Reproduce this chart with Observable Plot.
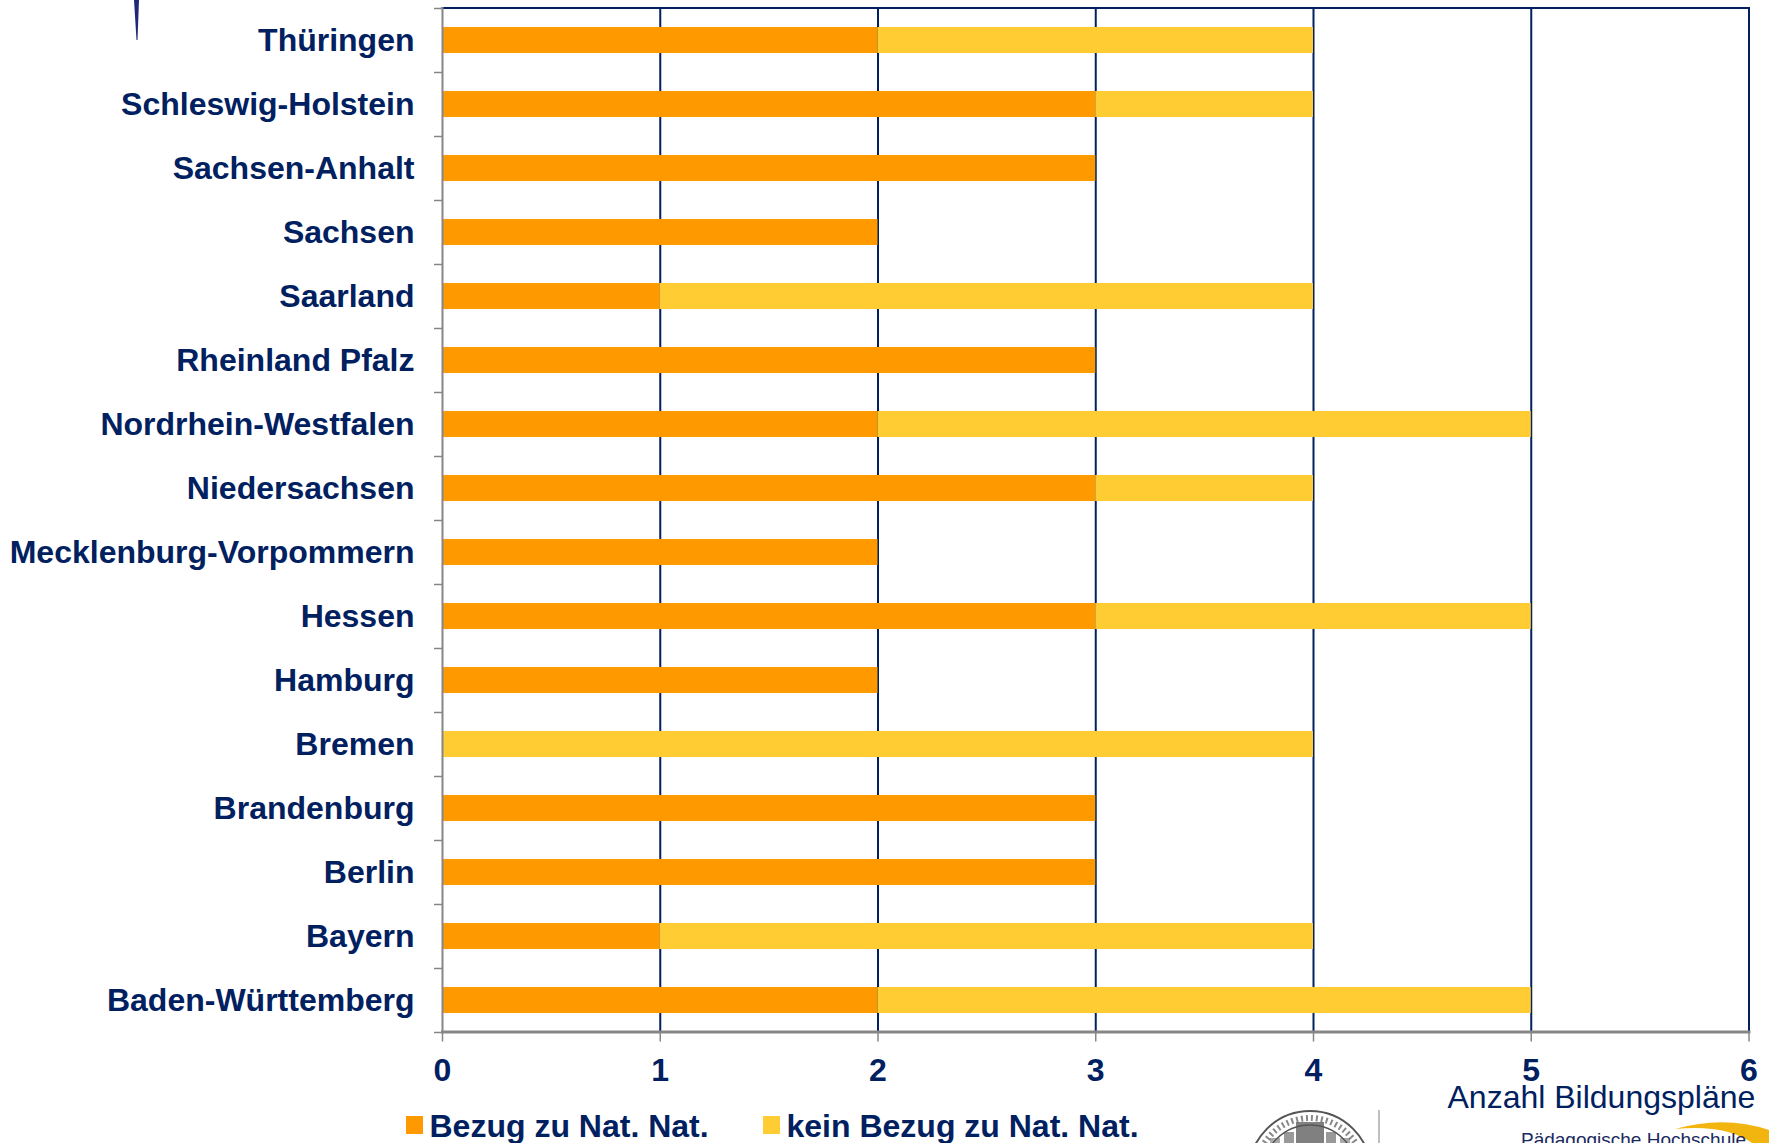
<!DOCTYPE html>
<html><head><meta charset="utf-8">
<script src="https://cdn.jsdelivr.net/npm/d3@7"></script>
<script src="https://cdn.jsdelivr.net/npm/@observablehq/plot@0.6"></script>
<style>
html,body{margin:0;padding:0;background:#fff;width:1769px;height:1143px;overflow:hidden;font-family:"Liberation Sans",Arial,sans-serif;color:#002060}
#chart{position:absolute;left:0;top:0}
.abs{position:absolute;white-space:nowrap;line-height:1}
.sw{position:absolute;width:17px;height:18px}
#deco{position:absolute;left:0;top:0;pointer-events:none}
</style></head><body>
<div id="chart"></div>
<svg id="deco" width="1769" height="1143" viewBox="0 0 1769 1143">
  <path d="M134 0 L139 0 L137.5 40 L136.5 40 Z" fill="#1e2a78"/>
  <path d="M1675 1129 Q1725 1115 1769 1130 L1769 1143 L1752 1143 Q1725 1124 1675 1129 Z" fill="#F2B40F"/>
  <line x1="1379" y1="1110" x2="1379" y2="1143" stroke="#aaaaaa" stroke-width="1.5"/>
  <g fill="none" stroke="#555555">
    <circle cx="1310" cy="1172" r="61" stroke-width="2"/>
    <circle cx="1310" cy="1172" r="54" stroke-width="6" stroke-dasharray="2 3" stroke-opacity="0.7"/>
    <circle cx="1310" cy="1172" r="47" stroke-width="1.5"/>
  </g>
  <g fill="#555555">
    <rect x="1296" y="1122" width="28" height="21" fill-opacity="0.75"/>
    <rect x="1284" y="1132" width="10" height="11" fill-opacity="0.6"/>
    <rect x="1326" y="1132" width="10" height="11" fill-opacity="0.6"/>
    <rect x="1270" y="1138" width="10" height="5" fill-opacity="0.5"/>
    <rect x="1340" y="1138" width="10" height="5" fill-opacity="0.5"/>
  </g>
</svg>
<div class="sw" style="left:406px;top:1116px;background:#FF9900"></div>
<div class="abs" style="left:429.5px;top:1109.5px;font-size:32px;font-weight:bold">Bezug zu Nat. Nat.</div>
<div class="sw" style="left:763px;top:1116px;background:#FFCC33"></div>
<div class="abs" style="left:786.5px;top:1109.5px;font-size:32px;font-weight:bold">kein Bezug zu Nat. Nat.</div>
<div class="abs" style="left:1447.5px;top:1080.5px;font-size:32px">Anzahl Bildungspläne</div>
<div class="abs" style="left:1521px;top:1130px;font-size:19px;color:#1a2a5e">Pädagogische Hochschule</div>
<script>
const states = ["Thüringen","Schleswig-Holstein","Sachsen-Anhalt","Sachsen","Saarland","Rheinland Pfalz","Nordrhein-Westfalen","Niedersachsen","Mecklenburg-Vorpommern","Hessen","Hamburg","Bremen","Brandenburg","Berlin","Bayern","Baden-Württemberg"];
const bezug = [2,3,3,2,1,3,2,3,2,3,2,0,3,3,1,2];
const keinBezug = [2,1,0,0,3,0,3,1,0,2,0,4,0,0,3,3];
const xTicks = [0,1,2,3,4,5,6];
const seriesNames = ["Bezug zu Nat. Nat.","kein Bezug zu Nat. Nat."];
const seriesColors = ["#FF9900","#FFCC33"];
const rows = states.flatMap((s,i)=>[
  {state:s,series:seriesNames[0],value:bezug[i]},
  {state:s,series:seriesNames[1],value:keinBezug[i]}
]);
const navy="#002060", gray="#868686";
const plot = Plot.plot({
  width:1769,height:1143,
  marginLeft:442,marginRight:20.5,marginTop:7.5,marginBottom:111.5,
  style:{fontFamily:'"Liberation Sans",Arial,sans-serif',background:"transparent",overflow:"visible"},
  x:{domain:[0,6]},
  y:{domain:states,paddingInner:0.6,paddingOuter:0.3},
  color:{domain:seriesNames,range:seriesColors},
  marks:[
    Plot.ruleX(xTicks.slice(1),{stroke:navy,strokeWidth:2}),
    Plot.frame({anchor:"top",stroke:navy,strokeWidth:2}),
    Plot.barX(rows,{x:"value",y:"state",fill:"series",order:seriesNames}),
    Plot.frame({anchor:"left",stroke:gray,strokeWidth:2}),
    Plot.frame({anchor:"bottom",stroke:gray,strokeWidth:3}),
    Plot.axisY({tickSize:8,text:null,dy:32,stroke:gray,strokeWidth:1.5,label:null}),
    Plot.axisY([states[0]],{tickSize:8,text:null,dy:-32,stroke:gray,strokeWidth:1.5,label:null}),
    Plot.axisY({tickSize:0,tickPadding:28,fill:navy,fontSize:32,fontWeight:"bold",label:null}),
    Plot.axisX(xTicks,{tickSize:10,stroke:gray,strokeWidth:1.5,text:null,label:null}),
    Plot.axisX(xTicks,{tickSize:0,tickPadding:26,fill:navy,fontSize:32,fontWeight:"bold",label:null,tickFormat:d=>String(d)})
  ]
});
document.getElementById("chart").append(plot);
</script>
</body></html>
